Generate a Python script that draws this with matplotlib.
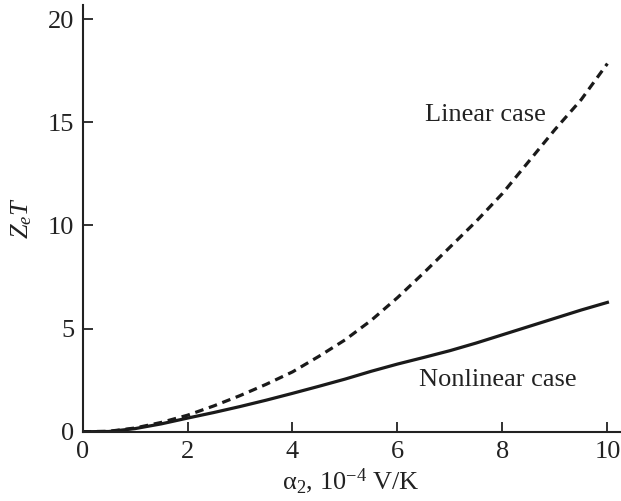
import numpy as np
import matplotlib
matplotlib.use("Agg")
import matplotlib.pyplot as plt

alpha2 = [0, 0.5, 1.0, 1.5, 2.0, 2.5, 3.0, 3.5, 4.0, 4.5, 5.0, 5.5, 6.0, 6.5, 7.0, 7.5, 8.0, 8.5, 9.0, 9.5, 10.0]
zt_linear = [0, 0.02, 0.18, 0.45, 0.8, 1.25, 1.75, 2.3, 2.9, 3.65, 4.45, 5.4, 6.5, 7.7, 8.95, 10.2, 11.55, 13.1, 14.65, 16.1, 17.85]
zt_nonlinear = [0, 0.01, 0.15, 0.38, 0.66, 0.93, 1.22, 1.53, 1.86, 2.2, 2.55, 2.93, 3.28, 3.6, 3.93, 4.3, 4.7, 5.1, 5.5, 5.9, 6.27]
xticks = [0, 2, 4, 6, 8, 10]
yticks = [0, 5, 10, 15, 20]

plt.rcParams['font.family'] = ['Liberation Serif']
plt.rcParams['mathtext.fontset'] = 'custom'
plt.rcParams['mathtext.rm'] = 'Liberation Serif'
plt.rcParams['mathtext.it'] = 'Liberation Serif:italic'
plt.rcParams['mathtext.bf'] = 'Liberation Serif:bold'

fig = plt.figure(figsize=(6.21, 5.01), dpi=100)
ax = fig.add_axes([0.1329, 0.1383, 0.8655, 0.8517])

ax.plot(alpha2, zt_linear, color='#1a1a1a', lw=2.3, dashes=(2.7, 1.8))
ax.plot(alpha2, zt_nonlinear, color='#1a1a1a', lw=2.3)

ax.set_xlim(0, 10.24)
ax.set_ylim(0, 20.69)
ax.set_xticks(xticks)
ax.set_yticks(yticks)
for s in ['top', 'right']:
    ax.spines[s].set_visible(False)
for s in ['left', 'bottom']:
    ax.spines[s].set_linewidth(1.5)
    ax.spines[s].set_color('#222222')
ax.tick_params(direction='in', length=7, width=1.3, labelsize=19, colors='#222222', pad=6)
ax.tick_params(axis='x', pad=7)

ax.set_xlabel(r'$\mathrm{\alpha}_2$, 10$^{-4}$ V/K', fontsize=19, color='#222222', labelpad=2)
ax.set_ylabel(r'$Z_eT$', fontsize=19, color='#222222', labelpad=10)

ax.text(6.52, 15.36, 'Linear case', fontsize=19, color='#222222', ha='left', va='center')
ax.text(6.41, 2.5, 'Nonlinear case', fontsize=19, color='#222222', ha='left', va='center')

fig.savefig('out.png', dpi=100)
